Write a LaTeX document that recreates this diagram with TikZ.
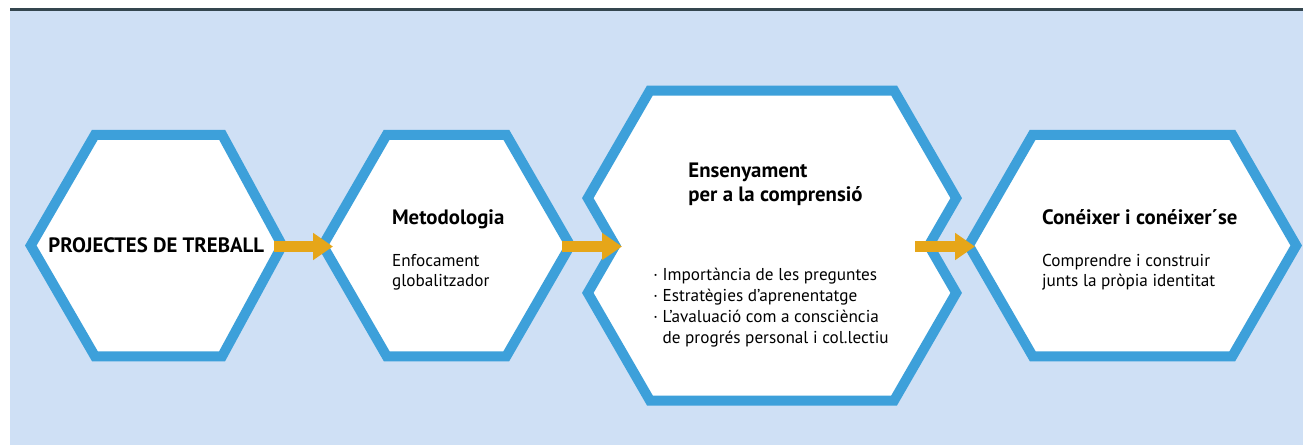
\documentclass[tikz,border=0pt]{standalone}
\usepackage{fontspec}
\setmainfont{PT Sans}
\usetikzlibrary{arrows.meta}
\definecolor{bgblue}{HTML}{CFE0F5}
\definecolor{hexblue}{HTML}{3DA0DA}
\definecolor{arrorange}{HTML}{E6A619}
\definecolor{topline}{HTML}{34464F}
\begin{document}
\begin{tikzpicture}[x=0.5pt,y=-0.5pt,
    hexa/.style={draw=hexblue,fill=white,line width=5pt,line join=miter},
    arrw/.style={draw=arrorange,line width=5.5pt,-{Triangle[length=10pt,width=13pt]}},
    title/.style={anchor=base west,inner sep=0pt,font=\bfseries\fontsize{10.4}{12.3}\selectfont,align=left},
    body/.style={anchor=base west,inner sep=0pt,font=\fontsize{8.6}{10}\selectfont,align=left}]
    \useasboundingbox (0,0) rectangle (1303,445);
    \fill[bgblue] (10,10) rectangle (1303,445);
    \draw[topline,line width=1.5pt] (10,9.5)--(1303,9.5);
    % hexagons
    \draw[hexa] (30.8,245.5)--(94.9,134.75)--(222.1,134.75)--(282.2,245.5)--(222.1,356.25)--(94.9,356.25)--cycle;
    \draw[hexa] (322.8,245.5)--(386.7,134.75)--(506.3,134.75)--(570.2,245.5)--(506.3,356.25)--(386.7,356.25)--cycle;
    \draw[hexa] (649.9,90.5)--(894.1,90.5)--(956.2,198.1)--(928.8,245.5)--(956.2,292.9)--(894.1,400.5)
        --(649.9,400.5)--(587.8,292.9)--(615.2,245.5)--(587.8,198.1)--cycle;
    \draw[hexa] (968.8,245.5)--(1032.7,134.75)--(1232.3,134.75)--(1296.2,245.5)--(1232.3,356.25)--(1032.7,356.25)--cycle;
    % texts (base = last line)
    \node[title] (proj) at (48,252) {PROJECTES DE TREBALL};
    \node[title] (met) at (391.7,224) {Metodologia};
    \node[body] (enf) at (391.7,286.7) {Enfocament\\globalitzador};
    \node[title] (ens) at (688,201.7) {Ensenyament\\per a la comprensió};
    \node[body,font=\fontsize{8.6}{10.5}\selectfont] (punts) at (653,343.3) {· Importància de les preguntes\\· Estratègies d’aprenentatge\\· L’avaluació com a consciència\\\phantom{· }de progrés personal i col.lectiu};
    \node[title] (con) at (1041.7,224) {Conéixer i conéixer´se};
    \node[body] (comp) at (1041.7,286.7) {Comprendre i construir\\junts la pròpia identitat};
    % arrows
    \coordinate (a1) at (274,246.5); \coordinate (b1) at (333,246.5);
    \coordinate (a2) at (562,246.5); \coordinate (b2) at (622,246.5);
    \coordinate (a3) at (915,246.5); \coordinate (b3) at (975,246.5);
    \draw[arrw] (a1)--(b1);
    \draw[arrw] (a2)--(b2);
    \draw[arrw] (a3)--(b3);
\end{tikzpicture}
\end{document}
